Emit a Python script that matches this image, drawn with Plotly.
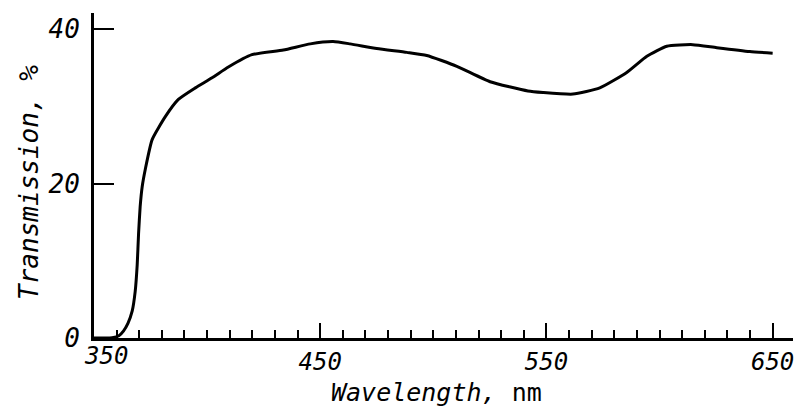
import plotly.graph_objects as go

wavelength_nm = [350, 355, 358, 361, 363, 365, 366.9, 368.2, 369.1, 369.7, 370.4, 371.3, 372.7,
                 375.7, 381.6, 387.3, 394.8, 402.2, 409.4, 419.8, 433.7, 445.6, 455.7, 463.2,
                 475.0, 488.3, 497.1, 510.4, 525.1, 541.8, 548.5, 561.7, 573.6, 585.5, 594.4,
                 603.2, 614.7, 625.3, 639.9, 650.0]
transmission_pct = [0, 0, 0.05, 0.3, 0.9, 1.9, 3.5, 6.0, 9.5, 13.5, 17.0, 19.6, 21.9,
                    25.7, 28.7, 30.9, 32.4, 33.7, 35.1, 36.7, 37.3, 38.1, 38.4, 38.1,
                    37.5, 37.0, 36.6, 35.2, 33.2, 32.0, 31.8, 31.6, 32.4, 34.4, 36.5,
                    37.8, 38.0, 37.6, 37.1, 36.9]

x_ticks = [350, 450, 550, 650]
x_ticktext = ["", "450", "550", "650"]   # the 350 label is nudged right (as in the original)
first_x_label = "350"
y_ticks = [0, 20, 40]

FONT = "DejaVu Sans Mono"

fig = go.Figure()
fig.add_trace(go.Scatter(x=wavelength_nm, y=transmission_pct, mode="lines",
                         line=dict(color="black", width=3, shape="spline", smoothing=0.5),
                         showlegend=False, hoverinfo="skip"))

fig.update_layout(
    width=797, height=412,
    margin=dict(l=94, r=4, t=13, b=74),
    paper_bgcolor="white", plot_bgcolor="white",
    font=dict(family=FONT, color="black"),
    xaxis=dict(range=[350, 659], showline=True, linewidth=3, linecolor="black",
               showgrid=False, zeroline=False,
               tickmode="array", tickvals=x_ticks, ticktext=x_ticktext,
               ticks="inside", ticklen=15, tickwidth=2, tickcolor="black",
               minor=dict(dtick=10, tick0=350, ticks="inside", ticklen=8, tickwidth=2,
                          tickcolor="black", showgrid=False),
               tickfont=dict(family=FONT, size=24, style="italic"),
               ticklabelstandoff=0),
    yaxis=dict(range=[0, 42.1], showline=True, linewidth=3, linecolor="black",
               showgrid=False, zeroline=False,
               tickmode="array", tickvals=y_ticks, ticktext=[str(v) for v in y_ticks],
               ticks="inside", ticklen=20, tickwidth=2, tickcolor="black",
               tickfont=dict(family=FONT, size=26, style="italic"),
               ticklabelstandoff=6),
    annotations=[
        dict(text=first_x_label, xref="x", yref="paper", x=x_ticks[0], y=0,
             xanchor="left", yanchor="top", xshift=-12, yshift=-2, showarrow=False,
             font=dict(family=FONT, size=24, style="italic")),
        dict(text="Transmission, %", xref="paper", yref="paper", x=-0.094, y=0.478,
             xanchor="center", yanchor="middle", textangle=-90, showarrow=False,
             font=dict(family=FONT, size=26, style="italic")),
        dict(text="<i>Wavelength,</i> nm", xref="paper", yref="paper", x=0.49, y=-0.118,
             xanchor="center", yanchor="top", showarrow=False,
             font=dict(family=FONT, size=25)),
    ],
)

fig.write_html("out.html")
